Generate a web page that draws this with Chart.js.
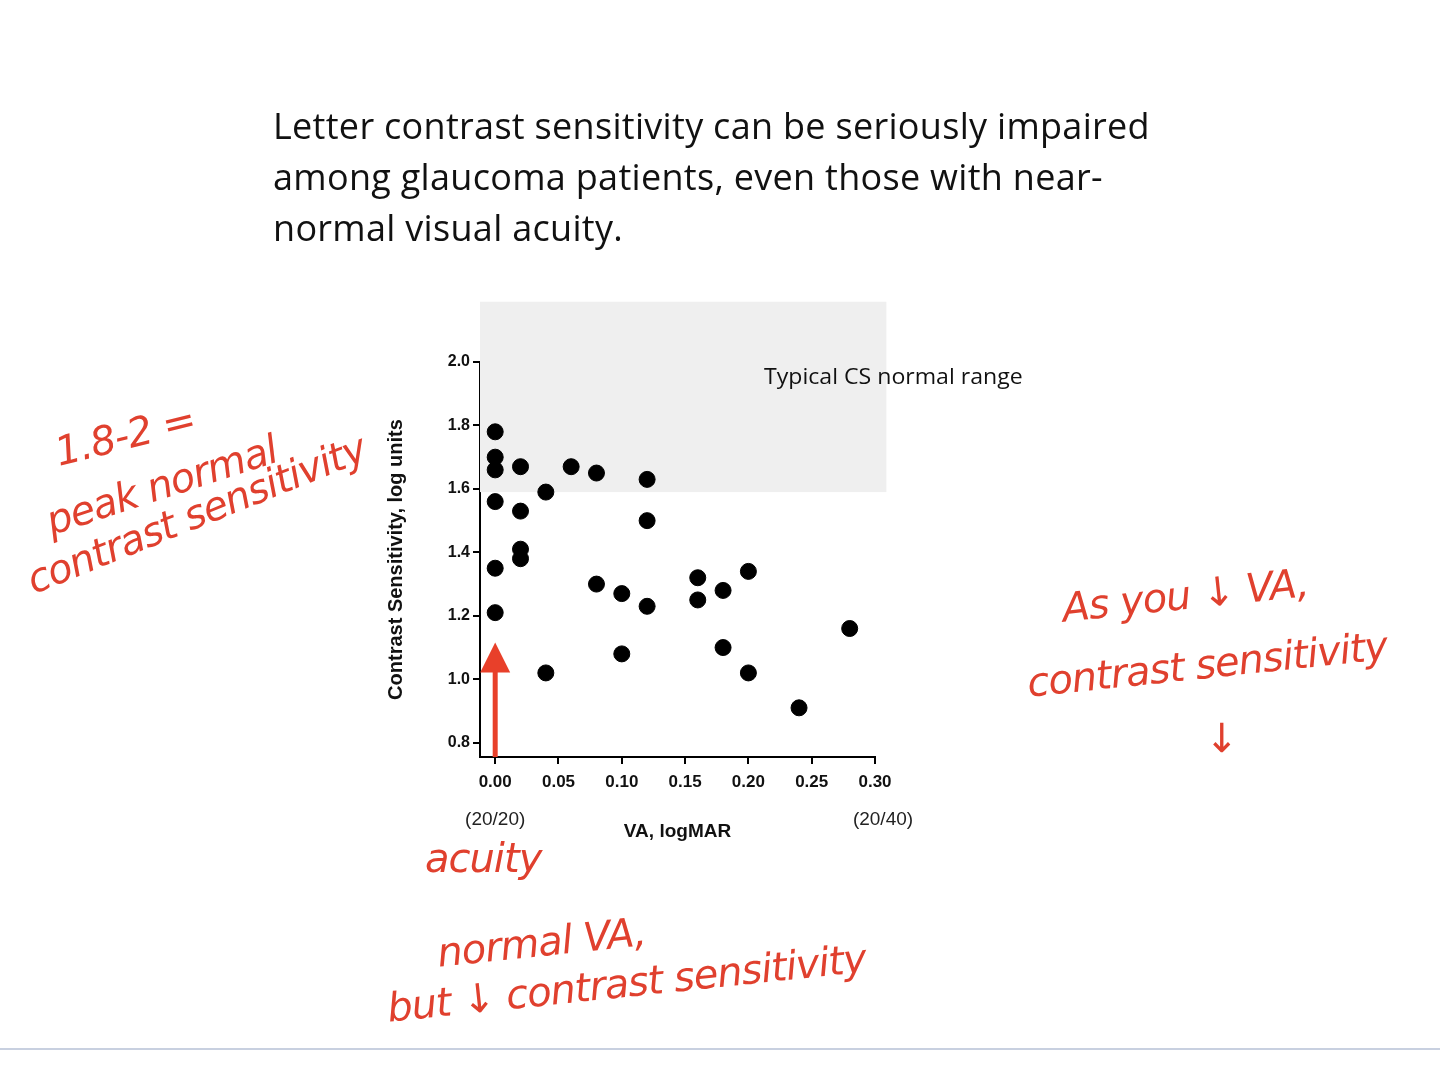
<!DOCTYPE html>
<html><head><meta charset="utf-8">
<script src="https://cdn.jsdelivr.net/npm/chart.js@4"></script>
<style>
body{margin:0;background:#fff;width:1440px;height:1074px;overflow:hidden;position:relative;font-family:"Open Sans",sans-serif}
#c{position:absolute;left:0;top:0}
.t{position:absolute;left:273px;top:100px;font-size:36px;letter-spacing:0.3px;line-height:51px;color:#111;width:1000px;white-space:nowrap}
.h{position:absolute;color:#e0402e;font-family:"DejaVu Sans";font-style:italic;font-size:40px;white-space:nowrap;transform-origin:left top;letter-spacing:-1px}
.line{position:absolute;left:0;top:1048px;width:1440px;height:2px;background:#c8d0e0}
</style></head><body>
<canvas id="c" width="1440" height="1074"></canvas>
<div class="t">Letter contrast sensitivity can be seriously impaired<br>among glaucoma patients, even those with near-<br>normal visual acuity.</div>
<div class="h" style="left:50px;top:430px;transform:rotate(-14deg)">1.8-2 =</div>
<div class="h" style="left:40px;top:500px;transform:rotate(-18deg)">peak normal</div>
<div class="h" style="left:20px;top:560px;transform:rotate(-22deg)">contrast sensitivity</div>
<div class="h" style="left:1060px;top:585px;transform:rotate(-6deg)">As you ↓ VA,</div>
<div class="h" style="left:1025px;top:660px;transform:rotate(-6deg)">contrast sensitivity</div>
<div class="h" style="left:1205px;top:715px">↓</div>
<div class="h" style="left:425px;top:835px">acuity</div>
<div class="h" style="left:435px;top:930px;transform:rotate(-6deg)">normal VA,</div>
<div class="h" style="left:385px;top:985px;transform:rotate(-6deg)">but ↓ contrast sensitivity</div>
<div class="line"></div>
<script>
const vaValues=[0,0,0,0,0,0,0.02,0.02,0.02,0.02,0.04,0.04,0.06,0.08,0.08,0.10,0.10,0.12,0.12,0.12,0.16,0.16,0.18,0.18,0.20,0.20,0.24,0.28];
const csValues=[1.78,1.70,1.66,1.56,1.35,1.21,1.67,1.53,1.41,1.38,1.59,1.02,1.67,1.65,1.30,1.27,1.08,1.63,1.50,1.23,1.32,1.25,1.28,1.10,1.34,1.02,0.91,1.16];
const xTicks=[0,0.05,0.10,0.15,0.20,0.25,0.30];
const yTicks=[0.8,1.0,1.2,1.4,1.6,1.8,2.0];
const normalRange={x0:-0.012,x1:0.309,y0:1.59,y1:2.19};
const extras={
 id:'extras',
 beforeDatasetsDraw(ch){
  const {ctx,scales:{x,y}}=ch;
  ctx.save();
  ctx.fillStyle='#efefef';
  const l=x.getPixelForValue(normalRange.x0),r=x.getPixelForValue(normalRange.x1);
  const t=y.getPixelForValue(normalRange.y1),b=y.getPixelForValue(normalRange.y0);
  ctx.fillRect(l,t,r-l,b-t);
  ctx.fillStyle='#111';ctx.font='21px "Open Sans"';ctx.textBaseline='middle';
  ctx.save();ctx.translate(764,y.getPixelForValue(1.95));ctx.scale(1.1,1);ctx.fillText('Typical CS normal range',0,0);ctx.restore();
  ctx.restore();
 },
 afterDraw(ch){
  const {ctx,scales:{x,y}}=ch;
  ctx.save();
  ctx.font='19px Arial';ctx.fillStyle='#222';ctx.textAlign='center';
  ctx.fillText('(20/20)',x.getPixelForValue(0),825);
  ctx.fillText('(20/40)',x.getPixelForValue(0.30)+8,825);
  const ax=x.getPixelForValue(0);
  const yb=y.bottom, yt=y.getPixelForValue(1.1);
  ctx.strokeStyle='#e8402a';ctx.fillStyle='#e8402a';ctx.lineWidth=5;
  ctx.beginPath();ctx.moveTo(ax,yb);ctx.lineTo(ax,yt+20);ctx.stroke();
  ctx.beginPath();ctx.moveTo(ax,yt-5);ctx.lineTo(ax-15,yt+25);ctx.lineTo(ax+15,yt+25);ctx.closePath();ctx.fill();
  ctx.restore();
 }
};
new Chart(document.getElementById('c'),{
 type:'scatter',
 data:{datasets:[{data:vaValues.map((v,i)=>({x:v,y:csValues[i]})),backgroundColor:'#000',borderColor:'#000',pointRadius:8}]},
 options:{responsive:false,animation:false,
  layout:{padding:{left:380,top:362,right:565,bottom:227}},
  plugins:{legend:{display:false},tooltip:{enabled:false}},
  scales:{
   x:{type:'linear',min:-0.012,max:0.30,
    afterBuildTicks:s=>{s.ticks=xTicks.map(v=>({value:v}))},
    afterFit:s=>{s.height=90},
    grid:{drawOnChartArea:false,tickLength:7,color:'#000',lineWidth:2},
    border:{color:'#000',width:2},
    ticks:{color:'#111',padding:8,font:{size:17,weight:'bold',family:'Arial'},callback:v=>v.toFixed(2),maxRotation:0},
    title:{display:true,text:'VA, logMAR',color:'#111',font:{size:19,weight:'bold',family:'Arial'},padding:{top:10}}},
   y:{type:'linear',min:0.755,max:2.0,
    afterBuildTicks:s=>{s.ticks=yTicks.map(v=>({value:v}))},
    afterFit:s=>{s.width=100},
    grid:{drawOnChartArea:false,tickLength:7,color:'#000',lineWidth:2},
    border:{color:'#000',width:2},
    ticks:{color:'#111',font:{size:16,weight:'bold',family:'Arial'},callback:v=>v.toFixed(1)},
    title:{display:true,text:'Contrast Sensitivity, log units',color:'#111',font:{size:20,weight:'bold',family:'Arial'},padding:{bottom:4}}}
  }},
 plugins:[extras]
});
</script></body></html>
